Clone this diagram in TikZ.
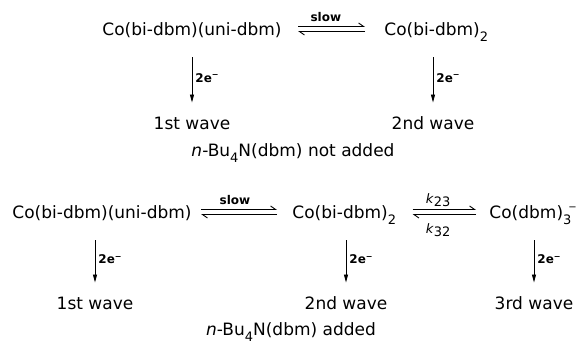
\documentclass[tikz,border=0pt]{standalone}
\usepackage{fontspec}
\setmainfont{DejaVu Sans}[ItalicFont={DejaVu Sans Oblique},BoldFont={DejaVu Sans Bold}]
\usetikzlibrary{arrows.meta}
\newcommand{\chsub}[1]{\raisebox{-6pt}{\fontsize{13}{13}\selectfont #1}}

\begin{document}
\begin{tikzpicture}[x=1pt,y=1pt,line width=0.9pt,
  every node/.style={font=\fontsize{17}{20}\selectfont},
  species/.style={anchor=base west,inner sep=0pt,text height=13pt,text depth=7pt},
  wave/.style={anchor=base,inner sep=0pt,text height=13pt},
  fwd/.style={-{Straight Barb[left,length=5pt,width=7pt]}},
  redox/.style={-{Triangle[length=8pt,width=4pt]},shorten <=14pt,shorten >=14pt},
  elec/.style={right=3pt,inner sep=0pt,font=\bfseries\fontsize{12}{12}\selectfont},
  slowlbl/.style={inner sep=0pt,font=\bfseries\fontsize{12}{12}\selectfont},
  rate/.style={inner sep=0pt,font=\fontsize{13}{13}\selectfont}]
\useasboundingbox (0,0) rectangle (576,-344);
% n-Bu4N(dbm) not added
\node[species] (s1) at (102,-36) {Co(bi-dbm)(uni-dbm)};
\node[species] (s2) at (384,-36) {Co(bi-dbm)\chsub{2}};
\draw[fwd,shorten <=16pt,shorten >=19pt] ([yshift=6.5pt]s1.east) -- ([yshift=6.5pt]s2.west)
  node[pos=0.43,above=4pt,slowlbl] {slow};
\draw[fwd,shorten <=19pt,shorten >=16pt] ([yshift=1.5pt]s2.west) -- ([yshift=1.5pt]s1.east);
\node[wave] (w1) at (192,-130) {1st wave};
\node[wave] (w2) at (433,-130) {2nd wave};
\draw[redox] (s1.south -| w1.north) -- (w1.north) node[pos=0.47,elec] {2e\textsuperscript{−}};
\draw[redox] (s2.south -| w2.north) -- (w2.north) node[pos=0.47,elec] {2e\textsuperscript{−}};
\node[anchor=base] (note1) at (293,-157) {\textit{n}-Bu\chsub{4}N(dbm) not added};
% n-Bu4N(dbm) added
\node[species] (b1) at (12,-219) {Co(bi-dbm)(uni-dbm)};
\node[species] (b2) at (292,-219) {Co(bi-dbm)\chsub{2}};
\node[species] (b3) at (489,-219) {Co(dbm)\chsub{3}\kern-3pt\raisebox{8pt}{\fontsize{10}{10}\selectfont −}};
\draw[fwd,shorten <=9pt,shorten >=15pt] ([yshift=6.5pt]b1.east) -- ([yshift=6.5pt]b2.west)
  node[pos=0.43,above=4pt,slowlbl] {slow};
\draw[fwd,shorten <=15pt,shorten >=9pt] ([yshift=1.5pt]b2.west) -- ([yshift=1.5pt]b1.east);
\draw[fwd,shorten <=16pt,shorten >=13pt] ([yshift=6.5pt]b2.east) -- ([yshift=6.5pt]b3.west)
  node[pos=0.45,above=2pt,rate] {\textit{k}\raisebox{-3pt}{23}};
\draw[fwd,shorten <=13pt,shorten >=16pt] ([yshift=1.5pt]b3.west) -- ([yshift=1.5pt]b2.east)
  node[pos=0.55,below=9pt,rate] {\textit{k}\raisebox{-3pt}{32}};
\node[wave] (w1b) at (95,-310) {1st wave};
\node[wave] (w2b) at (346,-310) {2nd wave};
\node[wave] (w3b) at (534,-310) {3rd wave};
\draw[redox] (b1.south -| w1b.north) -- (w1b.north) node[pos=0.47,elec] {2e\textsuperscript{−}};
\draw[redox] (b2.south -| w2b.north) -- (w2b.north) node[pos=0.47,elec] {2e\textsuperscript{−}};
\draw[redox] (b3.south -| w3b.north) -- (w3b.north) node[pos=0.47,elec] {2e\textsuperscript{−}};
\node[anchor=base] (note2) at (291,-336) {\textit{n}-Bu\chsub{4}N(dbm) added};
\end{tikzpicture}
\end{document}
